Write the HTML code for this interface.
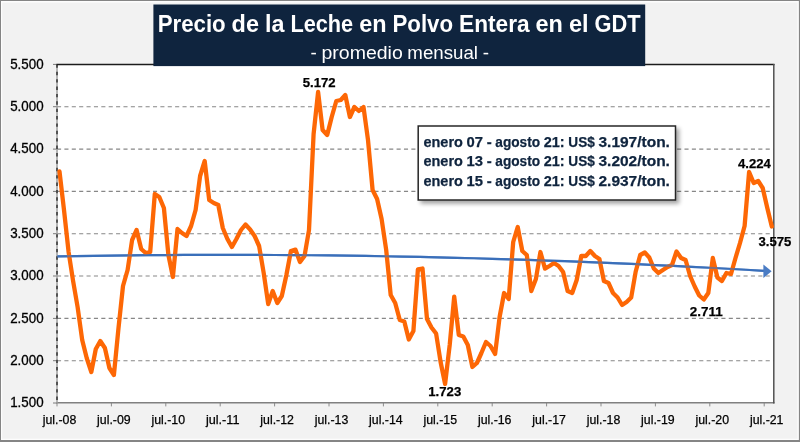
<!DOCTYPE html>
<html lang="es"><head><meta charset="utf-8"><title>Precio de la Leche en Polvo Entera en el GDT</title>
<style>html,body{margin:0;padding:0;background:#f2f2f2;overflow:hidden}svg{display:block}text{font-family:"Liberation Sans",sans-serif}</style>
</head><body>
<svg width="800" height="442" viewBox="0 0 800 442">
<defs><filter id="sh" x="-10%" y="-20%" width="125%" height="150%"><feGaussianBlur in="SourceAlpha" stdDeviation="2"/><feOffset dx="2.8" dy="2.8"/><feComponentTransfer><feFuncA type="linear" slope="0.36"/></feComponentTransfer><feMerge><feMergeNode/><feMergeNode in="SourceGraphic"/></feMerge></filter></defs>
<rect x="0" y="0" width="800" height="442" fill="#f2f2f2"/>
<path d="M0,0H800V442H0Z M1,1V440H798.7V1Z" fill="#858585" fill-rule="evenodd"/>
<path d="M1,1H798.7V440H1Z M2.2,2.4V438.8H797.5V2.4Z" fill="#fdfdfd" fill-rule="evenodd"/>
<rect x="55.8" y="64.4" width="718.5" height="338.6" fill="#ffffff"/>
<line x1="57" x2="774" y1="106.7" y2="106.7" stroke="#878787" stroke-width="1.15" stroke-dasharray="4.1 3.282"/>
<line x1="57" x2="774" y1="149.1" y2="149.1" stroke="#878787" stroke-width="1.15" stroke-dasharray="4.1 3.282"/>
<line x1="57" x2="774" y1="191.4" y2="191.4" stroke="#878787" stroke-width="1.15" stroke-dasharray="4.1 3.282"/>
<line x1="57" x2="774" y1="233.7" y2="233.7" stroke="#878787" stroke-width="1.15" stroke-dasharray="4.1 3.282"/>
<line x1="57" x2="774" y1="276.0" y2="276.0" stroke="#878787" stroke-width="1.15" stroke-dasharray="4.1 3.282"/>
<line x1="57" x2="774" y1="318.4" y2="318.4" stroke="#878787" stroke-width="1.15" stroke-dasharray="4.1 3.282"/>
<line x1="57" x2="774" y1="360.7" y2="360.7" stroke="#878787" stroke-width="1.15" stroke-dasharray="4.1 3.282"/>
<line x1="53" x2="57" y1="403.0" y2="403.0" stroke="#7a7a7a" stroke-width="1"/>
<line x1="53" x2="57" y1="360.7" y2="360.7" stroke="#7a7a7a" stroke-width="1"/>
<line x1="53" x2="57" y1="318.4" y2="318.4" stroke="#7a7a7a" stroke-width="1"/>
<line x1="53" x2="57" y1="276.0" y2="276.0" stroke="#7a7a7a" stroke-width="1"/>
<line x1="53" x2="57" y1="233.7" y2="233.7" stroke="#7a7a7a" stroke-width="1"/>
<line x1="53" x2="57" y1="191.4" y2="191.4" stroke="#7a7a7a" stroke-width="1"/>
<line x1="53" x2="57" y1="149.1" y2="149.1" stroke="#7a7a7a" stroke-width="1"/>
<line x1="53" x2="57" y1="106.7" y2="106.7" stroke="#7a7a7a" stroke-width="1"/>
<line x1="53" x2="57" y1="64.4" y2="64.4" stroke="#7a7a7a" stroke-width="1"/>
<line x1="57.0" x2="57.0" y1="403" y2="406.4" stroke="#8c8c8c" stroke-width="1"/>
<line x1="111.4" x2="111.4" y1="403" y2="406.4" stroke="#8c8c8c" stroke-width="1"/>
<line x1="165.8" x2="165.8" y1="403" y2="406.4" stroke="#8c8c8c" stroke-width="1"/>
<line x1="220.2" x2="220.2" y1="403" y2="406.4" stroke="#8c8c8c" stroke-width="1"/>
<line x1="274.6" x2="274.6" y1="403" y2="406.4" stroke="#8c8c8c" stroke-width="1"/>
<line x1="329.0" x2="329.0" y1="403" y2="406.4" stroke="#8c8c8c" stroke-width="1"/>
<line x1="383.4" x2="383.4" y1="403" y2="406.4" stroke="#8c8c8c" stroke-width="1"/>
<line x1="437.8" x2="437.8" y1="403" y2="406.4" stroke="#8c8c8c" stroke-width="1"/>
<line x1="492.2" x2="492.2" y1="403" y2="406.4" stroke="#8c8c8c" stroke-width="1"/>
<line x1="546.6" x2="546.6" y1="403" y2="406.4" stroke="#8c8c8c" stroke-width="1"/>
<line x1="601.0" x2="601.0" y1="403" y2="406.4" stroke="#8c8c8c" stroke-width="1"/>
<line x1="655.4" x2="655.4" y1="403" y2="406.4" stroke="#8c8c8c" stroke-width="1"/>
<line x1="709.8" x2="709.8" y1="403" y2="406.4" stroke="#8c8c8c" stroke-width="1"/>
<line x1="764.2" x2="764.2" y1="403" y2="406.4" stroke="#8c8c8c" stroke-width="1"/>
<line x1="56" x2="774.5" y1="402.7" y2="402.7" stroke="#808080" stroke-width="1.4"/>
<line x1="57" x2="57" y1="64.4" y2="403" stroke="#9c9c9c" stroke-width="1.5"/>
<line x1="57" x2="57" y1="64.4" y2="403" stroke="#333333" stroke-width="1.5" stroke-dasharray="3.4 3.982"/>
<line x1="56.5" x2="774.5" y1="64.5" y2="64.5" stroke="#1c1c1c" stroke-width="1.4"/>
<line x1="773.8" x2="773.8" y1="64" y2="403.4" stroke="#505050" stroke-width="1.5"/>
<path d="M57.5,256.38 L75.6,256.07 L93.7,255.79 L111.8,255.54 L130.0,255.34 L148.1,255.17 L166.2,255.03 L184.3,254.93 L202.4,254.87 L220.5,254.85 L238.7,254.86 L256.8,254.90 L274.9,254.98 L293.0,255.10 L311.1,255.26 L329.2,255.45 L347.3,255.67 L365.5,255.93 L383.6,256.23 L401.7,256.57 L419.8,256.94 L437.9,257.34 L456.0,257.79 L474.2,258.26 L492.3,258.78 L510.4,259.33 L528.5,259.92 L546.6,260.54 L564.7,261.20 L582.8,261.89 L601.0,262.62 L619.1,263.39 L637.2,264.19 L655.3,265.03 L673.4,265.91 L691.5,266.82 L709.7,267.76 L727.8,268.75 L745.9,269.77 L764.0,270.82" fill="none" stroke="#3b6fba" stroke-width="2.2"/>
<path d="M59.5,171.5 L64.0,210.0 L68.6,252.0 L73.1,281.0 L77.6,307.0 L82.2,340.0 L86.7,358.0 L91.3,372.0 L95.8,349.0 L100.3,341.0 L104.9,348.0 L109.4,368.0 L113.9,375.0 L118.5,328.0 L123.0,286.0 L127.6,270.0 L132.1,240.0 L136.6,230.0 L141.2,249.0 L145.7,253.0 L150.2,252.0 L154.8,194.0 L159.3,197.0 L163.9,208.0 L168.4,255.0 L172.9,277.0 L177.5,229.0 L182.0,233.0 L186.5,236.0 L191.1,226.0 L195.6,210.0 L200.1,176.0 L204.7,161.0 L209.2,200.0 L213.8,203.0 L218.3,205.0 L222.8,228.0 L227.4,239.0 L231.9,247.0 L236.4,239.0 L241.0,230.0 L245.5,224.5 L250.1,229.5 L254.6,236.0 L259.1,246.0 L263.7,273.0 L268.2,304.0 L272.7,291.0 L277.3,303.0 L281.8,296.0 L286.4,275.0 L290.9,251.0 L295.4,249.6 L300.0,262.0 L304.5,256.0 L309.0,230.0 L313.6,134.0 L318.1,92.0 L322.6,130.0 L327.2,135.0 L331.7,117.0 L336.3,101.0 L340.8,100.0 L345.3,95.0 L349.9,117.0 L354.4,107.0 L358.9,111.0 L363.5,107.0 L368.0,140.0 L372.6,190.0 L377.1,199.0 L381.6,219.0 L386.2,250.0 L390.7,295.0 L395.2,303.0 L399.8,320.0 L404.3,321.5 L408.8,339.5 L413.4,331.0 L417.9,269.4 L422.5,268.5 L427.0,319.0 L431.5,327.5 L436.1,333.5 L440.6,362.0 L445.1,384.0 L449.7,345.0 L454.2,296.6 L458.8,335.0 L463.3,336.5 L467.8,345.0 L472.4,367.0 L476.9,363.0 L481.4,353.0 L486.0,342.0 L490.5,346.0 L495.1,354.0 L499.6,317.0 L504.1,293.0 L508.7,299.0 L513.2,242.0 L517.7,227.0 L522.3,251.0 L526.8,255.0 L531.3,291.0 L535.9,279.0 L540.4,252.0 L545.0,268.6 L549.5,266.0 L554.0,263.0 L558.6,266.0 L563.1,272.0 L567.6,291.0 L572.2,293.0 L576.7,280.0 L581.3,256.0 L585.8,256.0 L590.3,251.0 L594.9,256.0 L599.4,259.0 L603.9,281.0 L608.5,283.0 L613.0,293.0 L617.6,297.5 L622.1,305.0 L626.6,302.0 L631.2,297.5 L635.7,271.5 L640.2,255.0 L644.8,252.5 L649.3,257.5 L653.8,268.5 L658.4,273.0 L662.9,270.0 L667.5,267.0 L672.0,265.0 L676.5,251.5 L681.1,258.0 L685.6,260.0 L690.1,276.0 L694.7,286.5 L699.2,295.5 L703.8,299.5 L708.3,293.0 L712.8,258.0 L717.4,277.5 L721.9,281.0 L726.4,273.0 L731.0,274.0 L735.5,258.0 L740.0,243.0 L744.6,226.0 L749.1,172.0 L753.7,183.0 L758.2,181.0 L762.7,188.0 L767.3,208.0 L771.8,226.5" fill="none" stroke="#fd6705" stroke-width="4.3" stroke-linejoin="round" stroke-linecap="round"/>
<path d="M57.5,256.38 L75.6,256.07 L93.7,255.79 L111.8,255.54 L130.0,255.34 L148.1,255.17 L166.2,255.03 L184.3,254.93 L202.4,254.87 L220.5,254.85 L238.7,254.86 L256.8,254.90 L274.9,254.98 L293.0,255.10 L311.1,255.26 L329.2,255.45 L347.3,255.67 L365.5,255.93 L383.6,256.23 L401.7,256.57 L419.8,256.94 L437.9,257.34 L456.0,257.79 L474.2,258.26 L492.3,258.78 L510.4,259.33 L528.5,259.92 L546.6,260.54 L564.7,261.20 L582.8,261.89 L601.0,262.62 L619.1,263.39 L637.2,264.19 L655.3,265.03 L673.4,265.91 L691.5,266.82 L709.7,267.76 L727.8,268.75 L745.9,269.77 L764.0,270.82" fill="none" stroke="#3b6fba" stroke-width="2.2" opacity="0.6"/>
<polygon points="763.4,264.5 771.6,271.3 763.4,278.1" fill="#4a7cc4"/>
<rect x="153.4" y="4.5" width="491.8" height="61.6" fill="#0f243e"/>
<text y="32" font-size="23.5" font-weight="bold" fill="#ffffff"><tspan x="157.68" textLength="67.98" lengthAdjust="spacingAndGlyphs">Precio</tspan> <tspan x="231.62" textLength="27.39" lengthAdjust="spacingAndGlyphs">de</tspan> <tspan x="264.96" textLength="19.47" lengthAdjust="spacingAndGlyphs">la</tspan> <tspan x="290.39" textLength="62.80" lengthAdjust="spacingAndGlyphs">Leche</tspan> <tspan x="359.14" textLength="27.39" lengthAdjust="spacingAndGlyphs">en</tspan> <tspan x="392.49" textLength="60.59" lengthAdjust="spacingAndGlyphs">Polvo</tspan> <tspan x="459.03" textLength="70.58" lengthAdjust="spacingAndGlyphs">Entera</tspan> <tspan x="535.57" textLength="27.39" lengthAdjust="spacingAndGlyphs">en</tspan> <tspan x="568.91" textLength="19.73" lengthAdjust="spacingAndGlyphs">el</tspan> <tspan x="594.59" textLength="46.05" lengthAdjust="spacingAndGlyphs">GDT</tspan></text>
<text y="58.6" font-size="18.3" fill="#ffffff"><tspan x="310.59" textLength="6.28" lengthAdjust="spacingAndGlyphs">-</tspan> <tspan x="321.49" textLength="81.25" lengthAdjust="spacingAndGlyphs">promedio</tspan> <tspan x="407.38" textLength="70.65" lengthAdjust="spacingAndGlyphs">mensual</tspan> <tspan x="482.67" textLength="6.28" lengthAdjust="spacingAndGlyphs">-</tspan></text>
<rect x="418.2" y="126" width="257.3" height="74" fill="#ffffff" stroke="#262626" stroke-width="1.5" filter="url(#sh)"/>
<text y="146.8" font-size="14.6" font-weight="bold" fill="#0f243e" stroke="#0f243e" stroke-width="0.25"><tspan x="423.51" textLength="39.35" lengthAdjust="spacingAndGlyphs">enero</tspan> <tspan x="466.53" textLength="16.45" lengthAdjust="spacingAndGlyphs">07</tspan> <tspan x="486.65" textLength="4.97" lengthAdjust="spacingAndGlyphs">-</tspan> <tspan x="495.29" textLength="44.76" lengthAdjust="spacingAndGlyphs">agosto</tspan> <tspan x="543.72" textLength="20.93" lengthAdjust="spacingAndGlyphs">21:</tspan> <tspan x="568.31" textLength="26.49" lengthAdjust="spacingAndGlyphs">US$</tspan> <tspan x="598.48" textLength="71.45" lengthAdjust="spacingAndGlyphs">3.197/ton.</tspan></text>
<text y="166.4" font-size="14.6" font-weight="bold" fill="#0f243e" stroke="#0f243e" stroke-width="0.25"><tspan x="423.51" textLength="39.35" lengthAdjust="spacingAndGlyphs">enero</tspan> <tspan x="466.53" textLength="16.45" lengthAdjust="spacingAndGlyphs">13</tspan> <tspan x="486.65" textLength="4.97" lengthAdjust="spacingAndGlyphs">-</tspan> <tspan x="495.29" textLength="44.76" lengthAdjust="spacingAndGlyphs">agosto</tspan> <tspan x="543.72" textLength="20.93" lengthAdjust="spacingAndGlyphs">21:</tspan> <tspan x="568.31" textLength="26.49" lengthAdjust="spacingAndGlyphs">US$</tspan> <tspan x="598.48" textLength="71.45" lengthAdjust="spacingAndGlyphs">3.202/ton.</tspan></text>
<text y="185.9" font-size="14.6" font-weight="bold" fill="#0f243e" stroke="#0f243e" stroke-width="0.25"><tspan x="423.51" textLength="39.35" lengthAdjust="spacingAndGlyphs">enero</tspan> <tspan x="466.53" textLength="16.45" lengthAdjust="spacingAndGlyphs">15</tspan> <tspan x="486.65" textLength="4.97" lengthAdjust="spacingAndGlyphs">-</tspan> <tspan x="495.29" textLength="44.76" lengthAdjust="spacingAndGlyphs">agosto</tspan> <tspan x="543.72" textLength="20.93" lengthAdjust="spacingAndGlyphs">21:</tspan> <tspan x="568.31" textLength="26.49" lengthAdjust="spacingAndGlyphs">US$</tspan> <tspan x="598.48" textLength="71.45" lengthAdjust="spacingAndGlyphs">2.937/ton.</tspan></text>
<text x="10.2" y="407.2" font-size="14" fill="#000000" stroke="#000000" stroke-width="0.3" textLength="33.4" lengthAdjust="spacingAndGlyphs">1.500</text>
<text x="10.2" y="364.9" font-size="14" fill="#000000" stroke="#000000" stroke-width="0.3" textLength="33.4" lengthAdjust="spacingAndGlyphs">2.000</text>
<text x="10.2" y="322.6" font-size="14" fill="#000000" stroke="#000000" stroke-width="0.3" textLength="33.4" lengthAdjust="spacingAndGlyphs">2.500</text>
<text x="10.2" y="280.2" font-size="14" fill="#000000" stroke="#000000" stroke-width="0.3" textLength="33.4" lengthAdjust="spacingAndGlyphs">3.000</text>
<text x="10.2" y="237.9" font-size="14" fill="#000000" stroke="#000000" stroke-width="0.3" textLength="33.4" lengthAdjust="spacingAndGlyphs">3.500</text>
<text x="10.2" y="195.6" font-size="14" fill="#000000" stroke="#000000" stroke-width="0.3" textLength="33.4" lengthAdjust="spacingAndGlyphs">4.000</text>
<text x="10.2" y="153.2" font-size="14" fill="#000000" stroke="#000000" stroke-width="0.3" textLength="33.4" lengthAdjust="spacingAndGlyphs">4.500</text>
<text x="10.2" y="110.9" font-size="14" fill="#000000" stroke="#000000" stroke-width="0.3" textLength="33.4" lengthAdjust="spacingAndGlyphs">5.000</text>
<text x="10.2" y="68.6" font-size="14" fill="#000000" stroke="#000000" stroke-width="0.3" textLength="33.4" lengthAdjust="spacingAndGlyphs">5.500</text>
<text x="42.7" y="424.2" font-size="12.6" fill="#000000" stroke="#000000" stroke-width="0.25" textLength="33.6" lengthAdjust="spacingAndGlyphs">jul.-08</text>
<text x="97.1" y="424.2" font-size="12.6" fill="#000000" stroke="#000000" stroke-width="0.25" textLength="33.6" lengthAdjust="spacingAndGlyphs">jul.-09</text>
<text x="151.5" y="424.2" font-size="12.6" fill="#000000" stroke="#000000" stroke-width="0.25" textLength="33.6" lengthAdjust="spacingAndGlyphs">jul.-10</text>
<text x="205.9" y="424.2" font-size="12.6" fill="#000000" stroke="#000000" stroke-width="0.25" textLength="33.6" lengthAdjust="spacingAndGlyphs">jul.-11</text>
<text x="260.3" y="424.2" font-size="12.6" fill="#000000" stroke="#000000" stroke-width="0.25" textLength="33.6" lengthAdjust="spacingAndGlyphs">jul.-12</text>
<text x="314.7" y="424.2" font-size="12.6" fill="#000000" stroke="#000000" stroke-width="0.25" textLength="33.6" lengthAdjust="spacingAndGlyphs">jul.-13</text>
<text x="369.1" y="424.2" font-size="12.6" fill="#000000" stroke="#000000" stroke-width="0.25" textLength="33.6" lengthAdjust="spacingAndGlyphs">jul.-14</text>
<text x="423.5" y="424.2" font-size="12.6" fill="#000000" stroke="#000000" stroke-width="0.25" textLength="33.6" lengthAdjust="spacingAndGlyphs">jul.-15</text>
<text x="477.9" y="424.2" font-size="12.6" fill="#000000" stroke="#000000" stroke-width="0.25" textLength="33.6" lengthAdjust="spacingAndGlyphs">jul.-16</text>
<text x="532.3" y="424.2" font-size="12.6" fill="#000000" stroke="#000000" stroke-width="0.25" textLength="33.6" lengthAdjust="spacingAndGlyphs">jul.-17</text>
<text x="586.7" y="424.2" font-size="12.6" fill="#000000" stroke="#000000" stroke-width="0.25" textLength="33.6" lengthAdjust="spacingAndGlyphs">jul.-18</text>
<text x="641.1" y="424.2" font-size="12.6" fill="#000000" stroke="#000000" stroke-width="0.25" textLength="33.6" lengthAdjust="spacingAndGlyphs">jul.-19</text>
<text x="695.5" y="424.2" font-size="12.6" fill="#000000" stroke="#000000" stroke-width="0.25" textLength="33.6" lengthAdjust="spacingAndGlyphs">jul.-20</text>
<text x="749.9" y="424.2" font-size="12.6" fill="#000000" stroke="#000000" stroke-width="0.25" textLength="33.6" lengthAdjust="spacingAndGlyphs">jul.-21</text>
<text x="302.7" y="86.5" font-size="13.3" font-weight="bold" fill="#000000" stroke="#000000" stroke-width="0.25" textLength="32.9" lengthAdjust="spacingAndGlyphs">5.172</text>
<text x="428.3" y="395.8" font-size="13.3" font-weight="bold" fill="#000000" stroke="#000000" stroke-width="0.25" textLength="32.9" lengthAdjust="spacingAndGlyphs">1.723</text>
<text x="689.8" y="315.8" font-size="13.3" font-weight="bold" fill="#000000" stroke="#000000" stroke-width="0.25" textLength="32.9" lengthAdjust="spacingAndGlyphs">2.711</text>
<text x="738" y="168.3" font-size="13.3" font-weight="bold" fill="#000000" stroke="#000000" stroke-width="0.25" textLength="32.9" lengthAdjust="spacingAndGlyphs">4.224</text>
<text x="758.5" y="245.7" font-size="13.3" font-weight="bold" fill="#000000" stroke="#000000" stroke-width="0.25" textLength="32.9" lengthAdjust="spacingAndGlyphs">3.575</text>
</svg></body></html>
